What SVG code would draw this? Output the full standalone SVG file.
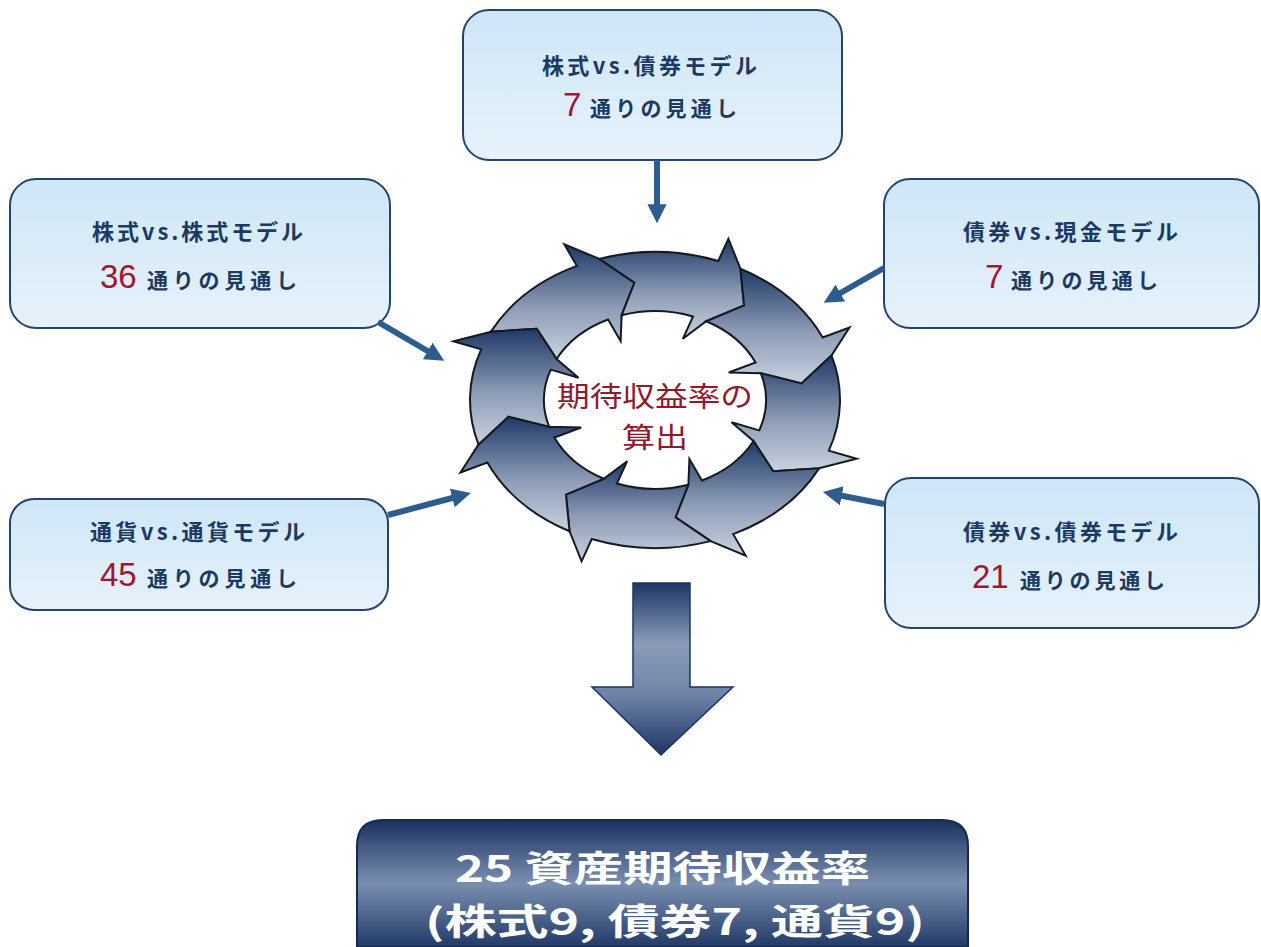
<svg xmlns="http://www.w3.org/2000/svg" width="1261" height="947" viewBox="0 0 1261 947">
  <defs>
    <style>
      .box { fill: url(#boxFill); stroke: #24446c; stroke-width: 2; }
      .ttl { font-family: "Noto Sans CJK JP", "Noto Sans", sans-serif; font-weight: 700; font-size: 22px; fill: #1b3a62; }
      .sub { font-family: "Noto Sans CJK JP", "Noto Sans", sans-serif; font-weight: 700; font-size: 21px; fill: #1b3a62; }
      .num { font-family: "Liberation Sans", Arial, sans-serif; font-size: 33px; fill: #a01830; }
      .seg { fill: url(#ringFill); stroke: #151a22; stroke-width: 2; stroke-linejoin: miter; }
      .link { fill: none; stroke: #2c5d8e; stroke-width: 6; marker-end: url(#head); }
      .center { font-family: "Noto Sans CJK JP", sans-serif; font-size: 28px; fill: #8e1a2c; text-anchor: middle; }
      .result { font-family: "Noto Sans CJK JP", sans-serif; font-weight: 700; font-size: 36px; fill: #ffffff; }
    </style>
    <linearGradient id="boxFill" x1="0" y1="0" x2="0" y2="1">
      <stop offset="0" stop-color="#cfe6f7"/>
      <stop offset="1" stop-color="#e6f2fb"/>
    </linearGradient>
    <linearGradient id="ringFill" x1="0" y1="0" x2="0" y2="1">
      <stop offset="0" stop-color="#1e3866"/>
      <stop offset="0.55" stop-color="#8d9bb5"/>
      <stop offset="1" stop-color="#c8d3df"/>
    </linearGradient>
    <linearGradient id="bigArrowFill" x1="0" y1="0" x2="0" y2="1">
      <stop offset="0" stop-color="#1c3665"/>
      <stop offset="0.35" stop-color="#8a9cb8"/>
      <stop offset="0.65" stop-color="#6f84a6"/>
      <stop offset="1" stop-color="#1e3566"/>
    </linearGradient>
    <linearGradient id="resultFill" x1="0" y1="0" x2="0" y2="1">
      <stop offset="0" stop-color="#1a3160"/>
      <stop offset="0.5" stop-color="#7a8fb0"/>
      <stop offset="1" stop-color="#223a68"/>
    </linearGradient>
    <marker id="head" viewBox="0 0 10 10" refX="2" refY="5" markerWidth="3.2" markerHeight="3.4" orient="auto">
      <path d="M0,0 L10,5 L0,10 Z" fill="#2c5d8e"/>
    </marker>
  </defs>

  <!-- model boxes -->
  <g id="box-stock-bond">
    <rect class="box" x="463" y="10" width="379" height="150" rx="26"/>
    <text class="ttl" x="542" y="74" textLength="215" lengthAdjust="spacing">株式vs.債券モデル</text>
    <text class="num" x="563" y="116">7</text>
    <text class="sub" x="590" y="116" textLength="147" lengthAdjust="spacing">通りの見通し</text>
  </g>

  <g id="box-stock-stock">
    <rect class="box" x="10" y="179" width="380" height="149" rx="26"/>
    <text class="ttl" x="92" y="240" textLength="211" lengthAdjust="spacing">株式vs.株式モデル</text>
    <text class="num" x="100" y="288">36</text>
    <text class="sub" x="147" y="288" textLength="150" lengthAdjust="spacing">通りの見通し</text>
  </g>

  <g id="box-bond-cash">
    <rect class="box" x="884" y="179" width="375" height="149" rx="26"/>
    <text class="ttl" x="963" y="240" textLength="215" lengthAdjust="spacing">債券vs.現金モデル</text>
    <text class="num" x="985" y="288">7</text>
    <text class="sub" x="1011" y="288" textLength="147" lengthAdjust="spacing">通りの見通し</text>
  </g>

  <g id="box-fx-fx">
    <rect class="box" x="10" y="499" width="378" height="111" rx="24"/>
    <text class="ttl" x="90" y="540" textLength="215" lengthAdjust="spacing">通貨vs.通貨モデル</text>
    <text class="num" x="100" y="586">45</text>
    <text class="sub" x="147" y="586" textLength="150" lengthAdjust="spacing">通りの見通し</text>
  </g>

  <g id="box-bond-bond">
    <rect class="box" x="885" y="478" width="374" height="150" rx="26"/>
    <text class="ttl" x="963" y="540" textLength="215" lengthAdjust="spacing">債券vs.債券モデル</text>
    <text class="num" x="972" y="588">21</text>
    <text class="sub" x="1020" y="588" textLength="145" lengthAdjust="spacing">通りの見通し</text>
  </g>

  <!-- connectors into the cycle -->
  <g id="connectors">
    <line class="link" x1="657" y1="160" x2="657" y2="208"/>
    <line class="link" x1="378" y1="322" x2="431" y2="353"/>
    <line class="link" x1="884" y1="268" x2="837" y2="295"/>
    <line class="link" x1="388" y1="515" x2="456" y2="497"/>
    <line class="link" x1="884" y1="504" x2="838" y2="495"/>
  </g>

  <!-- cycle of eight curved arrows -->
  <g id="cycle">
    <path class="seg" d="M490.90,331.66 A185,148 0 0 1 576.82,265.87 L564.31,244.40 L599.37,258.85 L634.40,282.75 L621.62,315.31 L620.60,340.98 L608.09,319.52 A111,88.8 0 0 0 556.54,359.00 L536.80,328.74 Z"/>
    <path class="seg" d="M599.37,258.85 A185,148 0 0 1 718.27,260.93 L728.40,238.67 L740.42,268.72 L744.07,305.44 L706.25,321.23 L682.84,338.81 L692.96,316.56 A111,88.8 0 0 0 621.62,315.31 L634.40,282.75 Z"/>
    <path class="seg" d="M740.42,268.72 A185,148 0 0 1 822.67,337.45 L849.49,327.44 L831.44,355.49 L801.56,383.52 L760.86,373.30 L728.77,372.48 L755.60,362.47 A111,88.8 0 0 0 706.25,321.23 L744.07,305.44 Z"/>
    <path class="seg" d="M831.44,355.49 A185,148 0 0 1 828.84,450.62 L856.66,458.72 L819.10,468.34 L773.20,471.26 L753.46,441.00 L731.49,422.27 L759.31,430.37 A111,88.8 0 0 0 760.86,373.30 L801.56,383.52 Z"/>
    <path class="seg" d="M819.10,468.34 A185,148 0 0 1 733.18,534.13 L745.69,555.60 L710.63,541.15 L675.60,517.25 L688.38,484.69 L689.40,459.02 L701.91,480.48 A111,88.8 0 0 0 753.46,441.00 L773.20,471.26 Z"/>
    <path class="seg" d="M710.63,541.15 A185,148 0 0 1 591.73,539.07 L581.60,561.33 L569.58,531.28 L565.93,494.56 L603.75,478.77 L627.16,461.19 L617.04,483.44 A111,88.8 0 0 0 688.38,484.69 L675.60,517.25 Z"/>
    <path class="seg" d="M569.58,531.28 A185,148 0 0 1 487.33,462.55 L460.51,472.56 L478.56,444.51 L508.44,416.48 L549.14,426.70 L581.23,427.52 L554.40,437.53 A111,88.8 0 0 0 603.75,478.77 L565.93,494.56 Z"/>
    <path class="seg" d="M478.56,444.51 A185,148 0 0 1 481.16,349.38 L453.34,341.28 L490.90,331.66 L536.80,328.74 L556.54,359.00 L578.51,377.73 L550.69,369.63 A111,88.8 0 0 0 549.14,426.70 L508.44,416.48 Z"/>
  </g>

  <g id="cycle-label">
    <text class="center" x="655" y="407" textLength="196" lengthAdjust="spacingAndGlyphs">期待収益率の</text>
    <text class="center" x="655" y="448" textLength="66" lengthAdjust="spacingAndGlyphs">算出</text>
  </g>

  <!-- large downward arrow -->
  <g id="down-arrow">
    <path d="M633,583 L690,583 L690,687 L733,687 L661,755 L592,687 L633,687 Z" fill="url(#bigArrowFill)" stroke="#1c3563" stroke-width="1.5"/>
  </g>

  <!-- result panel -->
  <g id="result">
    <path d="M357,947 L357,846 Q357,820 383,820 L942,820 Q968,820 968,846 L968,947 Z" fill="url(#resultFill)" stroke="#132a52" stroke-width="2"/>
    <text class="result" x="455" y="882" textLength="415" lengthAdjust="spacingAndGlyphs">25 資産期待収益率</text>
    <text class="result" x="425" y="935" textLength="500" lengthAdjust="spacingAndGlyphs">(株式9, 債券7, 通貨9)</text>
  </g>
</svg>
